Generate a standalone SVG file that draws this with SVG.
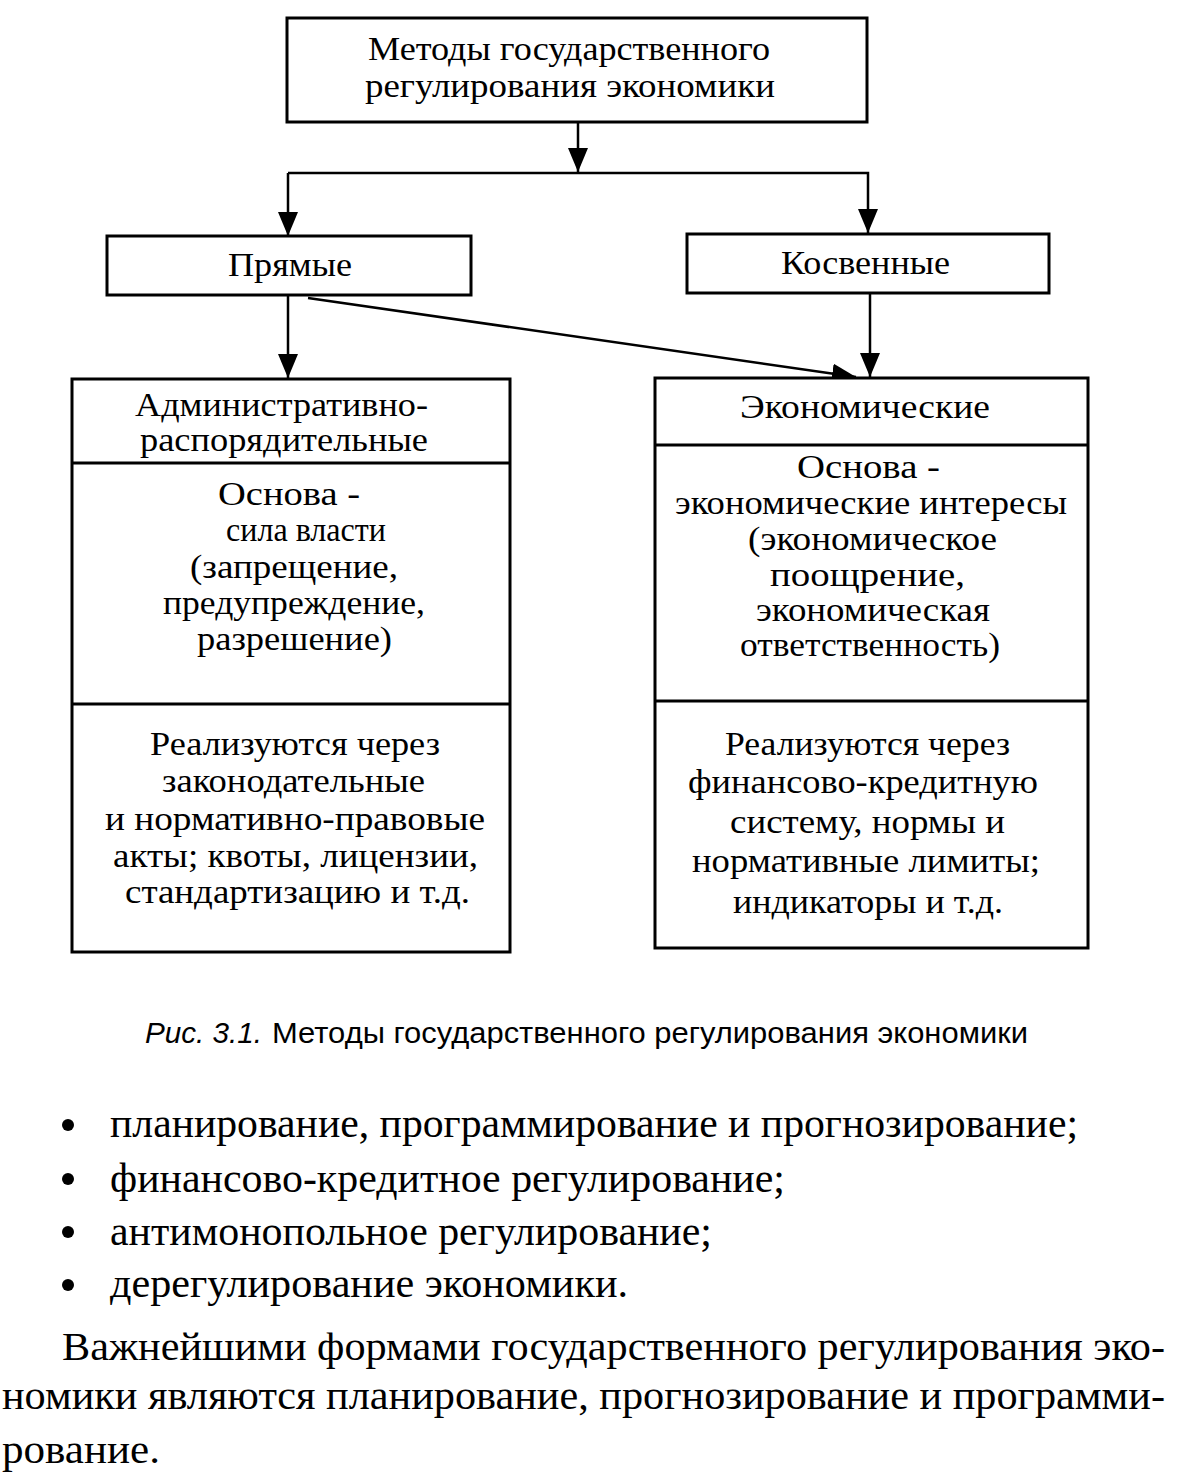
<svg xmlns="http://www.w3.org/2000/svg" width="1181" height="1476" viewBox="0 0 1181 1476">
<style>
.box{fill:#fff;stroke:#000;stroke-width:3}
.ln{fill:none;stroke:#000;stroke-width:2.5}
.t{font-family:"Liberation Serif","Times New Roman",serif;font-size:34px;fill:#000}
.tt{font-family:"Liberation Serif","Times New Roman",serif;font-size:33px;fill:#000}
.cap{font-family:"Liberation Sans Narrow","Liberation Sans",Arial,sans-serif;font-size:29px;fill:#000}
.body{font-family:"Liberation Serif","Times New Roman",serif;font-size:42px;fill:#000}
.para{font-family:"Liberation Serif","Times New Roman",serif;font-size:39px;fill:#000}
</style>
<defs>
<marker id="arr" markerUnits="userSpaceOnUse" markerWidth="24" markerHeight="20" refX="24" refY="10" orient="auto" viewBox="0 0 24 20">
<path d="M0,0 L24,10 L0,20 Z" fill="#000"/>
</marker>
</defs>
<rect width="1181" height="1476" fill="#fff"/>

<g id="connectors">
<line class="ln" x1="578" y1="122" x2="578" y2="172" marker-end="url(#arr)"/>
<polyline class="ln" points="288,173 868,173 868,233" marker-end="url(#arr)"/>
<line class="ln" x1="288" y1="173" x2="288" y2="236" marker-end="url(#arr)"/>
<line class="ln" x1="288" y1="296" x2="288" y2="378" marker-end="url(#arr)"/>
<line class="ln" x1="870" y1="294" x2="870" y2="377" marker-end="url(#arr)"/>
<line class="ln" x1="308" y1="298" x2="856" y2="377" marker-end="url(#arr)"/>
</g>

<g id="top">
<rect class="box" x="287" y="18" width="580" height="104"/>
<text class="tt" x="368" y="60" textLength="402" lengthAdjust="spacingAndGlyphs">Методы государственного</text>
<text class="tt" x="365" y="97" textLength="410" lengthAdjust="spacingAndGlyphs">регулирования экономики</text>
</g>

<g id="direct">
<rect class="box" x="107" y="236" width="364" height="59"/>
<text class="t" x="228" y="276" textLength="124" lengthAdjust="spacingAndGlyphs">Прямые</text>
</g>

<g id="indirect">
<rect class="box" x="687" y="234" width="362" height="59"/>
<text class="t" x="781" y="274" textLength="169" lengthAdjust="spacingAndGlyphs">Косвенные</text>
</g>

<g id="admin">
<rect class="box" x="72" y="379" width="438" height="573"/>
<line class="box" x1="72" y1="463" x2="510" y2="463"/>
<line class="box" x1="72" y1="704" x2="510" y2="704"/>
<text class="t" x="135" y="416" textLength="293" lengthAdjust="spacingAndGlyphs">Административно-</text>
<text class="t" x="140" y="451" textLength="288" lengthAdjust="spacingAndGlyphs">распорядительные</text>
<text class="t" x="218" y="505" textLength="142" lengthAdjust="spacingAndGlyphs">Основа -</text>
<text class="t" x="226" y="541" textLength="160" lengthAdjust="spacingAndGlyphs">сила власти</text>
<text class="t" x="190" y="578" textLength="208" lengthAdjust="spacingAndGlyphs">(запрещение,</text>
<text class="t" x="163" y="614" textLength="262" lengthAdjust="spacingAndGlyphs">предупреждение,</text>
<text class="t" x="197" y="650" textLength="195" lengthAdjust="spacingAndGlyphs">разрешение)</text>
<text class="t" x="150" y="755" textLength="290" lengthAdjust="spacingAndGlyphs">Реализуются через</text>
<text class="t" x="162" y="792" textLength="263" lengthAdjust="spacingAndGlyphs">законодательные</text>
<text class="t" x="105" y="830" textLength="380" lengthAdjust="spacingAndGlyphs">и нормативно-правовые</text>
<text class="t" x="113" y="867" textLength="365" lengthAdjust="spacingAndGlyphs">акты; квоты, лицензии,</text>
<text class="t" x="125" y="903" textLength="345" lengthAdjust="spacingAndGlyphs">стандартизацию и т.д.</text>
</g>

<g id="econ">
<rect class="box" x="655" y="378" width="433" height="570"/>
<line class="box" x1="655" y1="445" x2="1088" y2="445"/>
<line class="box" x1="655" y1="701" x2="1088" y2="701"/>
<text class="t" x="740" y="418" textLength="250" lengthAdjust="spacingAndGlyphs">Экономические</text>
<text class="t" x="797" y="478" textLength="143" lengthAdjust="spacingAndGlyphs">Основа -</text>
<text class="t" x="675" y="514" textLength="392" lengthAdjust="spacingAndGlyphs">экономические интересы</text>
<text class="t" x="748" y="550" textLength="249" lengthAdjust="spacingAndGlyphs">(экономическое</text>
<text class="t" x="770" y="586" textLength="195" lengthAdjust="spacingAndGlyphs">поощрение,</text>
<text class="t" x="756" y="621" textLength="234" lengthAdjust="spacingAndGlyphs">экономическая</text>
<text class="t" x="740" y="656" textLength="260" lengthAdjust="spacingAndGlyphs">ответственность)</text>
<text class="t" x="725" y="755" textLength="285" lengthAdjust="spacingAndGlyphs">Реализуются через</text>
<text class="t" x="688" y="793" textLength="350" lengthAdjust="spacingAndGlyphs">финансово-кредитную</text>
<text class="t" x="730" y="833" textLength="275" lengthAdjust="spacingAndGlyphs">систему, нормы и</text>
<text class="t" x="692" y="872" textLength="348" lengthAdjust="spacingAndGlyphs">нормативные лимиты;</text>
<text class="t" x="733" y="913" textLength="270" lengthAdjust="spacingAndGlyphs">индикаторы и т.д.</text>
</g>

<g id="caption">
<text class="cap" x="145" y="1043" font-style="italic" textLength="117" lengthAdjust="spacingAndGlyphs">Рис. 3.1.</text>
<text class="cap" x="272" y="1043" textLength="756" lengthAdjust="spacingAndGlyphs">Методы государственного регулирования экономики</text>
</g>

<g id="text">
<circle cx="68" cy="1125" r="6"/>
<circle cx="68" cy="1179" r="6"/>
<circle cx="68" cy="1232" r="6"/>
<circle cx="68" cy="1285" r="6"/>
<text class="body" x="110" y="1137" textLength="968" lengthAdjust="spacingAndGlyphs">планирование, программирование и прогнозирование;</text>
<text class="body" x="110" y="1192" textLength="675" lengthAdjust="spacingAndGlyphs">финансово-кредитное регулирование;</text>
<text class="body" x="110" y="1245" textLength="602" lengthAdjust="spacingAndGlyphs">антимонопольное регулирование;</text>
<text class="body" x="110" y="1297" textLength="518" lengthAdjust="spacingAndGlyphs">дерегулирование экономики.</text>
<text class="para" x="62" y="1360" textLength="1103" lengthAdjust="spacingAndGlyphs">Важнейшими формами государственного регулирования эко-</text>
<text class="para" x="2" y="1409" textLength="1163" lengthAdjust="spacingAndGlyphs">номики являются планирование, прогнозирование и программи-</text>
<text class="para" x="2" y="1463" textLength="158" lengthAdjust="spacingAndGlyphs">рование.</text>
</g>
</svg>
